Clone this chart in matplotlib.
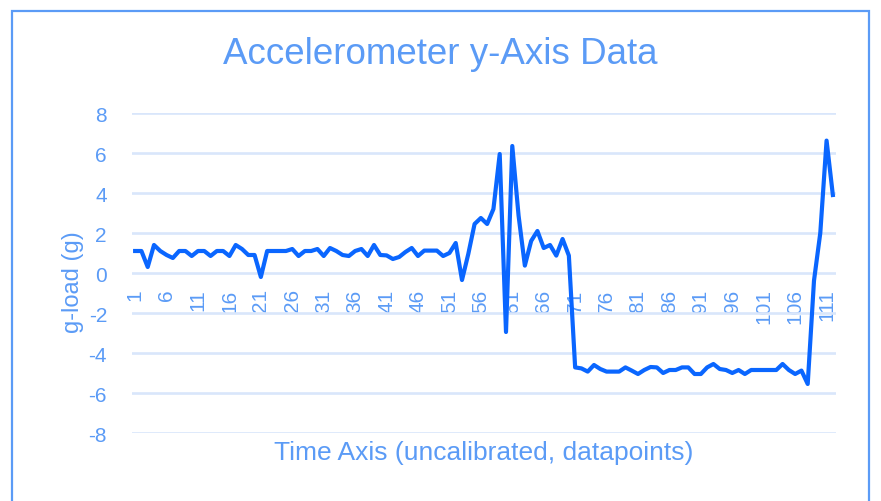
import matplotlib
matplotlib.use("Agg")
import matplotlib.pyplot as plt
from matplotlib.patches import Rectangle

# ---- data ----
categories = list(range(1, 113))
g_load = [
    1.1, 1.1, 0.3, 1.4, 1.1, 0.9, 0.75, 1.1, 1.1, 0.85,
    1.1, 1.1, 0.85, 1.1, 1.1, 0.85, 1.4, 1.2, 0.9, 0.9,
    -0.2, 1.1, 1.1, 1.1, 1.1, 1.2, 0.85, 1.1, 1.1, 1.2,
    0.85, 1.25, 1.1, 0.9, 0.85, 1.1, 1.2, 0.85, 1.4, 0.9,
    0.88, 0.7, 0.8, 1.05, 1.25, 0.85, 1.12, 1.12, 1.12, 0.85,
    1.0, 1.5, -0.35, 0.95, 2.45, 2.75, 2.45, 3.2, 5.95, -2.95,
    6.35, 2.87, 0.37, 1.6, 2.1, 1.25, 1.4, 0.87, 1.7, 0.87,
    -4.72, -4.77, -4.93, -4.6, -4.8, -4.93, -4.93, -4.93, -4.72, -4.88,
    -5.05, -4.85, -4.7, -4.72, -5.0, -4.85, -4.85, -4.72, -4.72, -5.05,
    -5.05, -4.72, -4.55, -4.8, -4.85, -5.0, -4.85, -5.05, -4.85, -4.85,
    -4.85, -4.85, -4.85, -4.55, -4.85, -5.05, -4.88, -5.55, -0.38, 2.0,
    6.62, 3.9,
]
x_tick_labels = [str(c) for c in categories if (c - 1) % 5 == 0]
y_ticks = [-8, -6, -4, -2, 0, 2, 4, 6, 8]

title = "Accelerometer y-Axis Data"
x_title = "Time Axis (uncalibrated, datapoints)"
y_title = "g-load (g)"

# ---- style ----
plt.rcParams['font.family'] = ['Liberation Sans', 'DejaVu Sans']
text_color = '#5B9BF6'
line_color = '#0A66FF'
grid_color = '#D9E6FB'

W, H = 881, 502
fig = plt.figure(figsize=(W / 100, H / 100), dpi=100)
fig.patch.set_facecolor('white')

# outer border
fig.patches.append(Rectangle((12 / W, -0.05), (869 - 12) / W, 1.05 - 12 / H,
                             transform=fig.transFigure, fill=False,
                             edgecolor='#5B9BF6', linewidth=1.6))

left, right, top, bottom = 132, 836, 114, 434
ax = fig.add_axes([left / W, 1 - bottom / H, (right - left) / W, (bottom - top) / H])
ax.set_facecolor('white')

for s in ax.spines.values():
    s.set_visible(False)
ax.spines['bottom'].set_position(('data', 0))

ax.plot(categories, g_load, color=line_color, linewidth=3.0, solid_joinstyle='round', zorder=3)

ax.set_xlim(0.5, len(categories) + 0.5)
ax.set_ylim(-8, 8)
ax.set_yticks(y_ticks)
ax.set_yticklabels([str(v) for v in y_ticks])
ax.yaxis.grid(True, color=grid_color, linewidth=1.9)
ax.xaxis.grid(False)
ax.set_axisbelow(True)

tick_pos = [c for c in categories if (c - 1) % 5 == 0]
ax.set_xticks(tick_pos)
ax.set_xticklabels(x_tick_labels)

ax.tick_params(axis='x', length=0, pad=11, labelsize=15, labelcolor=text_color,
               labelrotation=90)
for lbl in ax.get_xticklabels():
    lbl.set_va('top')
    lbl.set_ha('center')
ax.tick_params(axis='y', length=0, pad=18, labelsize=15, labelcolor=text_color)

fig.text(0.4995, 1 - 55 / H, title, ha='center', va='center', fontsize=26.5, color=text_color)
fig.text((left + right) / 2 / W, 1 - 453 / H, x_title, ha='center', va='center',
         fontsize=19, color=text_color)
fig.text(73 / W, 1 - 282 / H, y_title, ha='center', va='center', rotation=90,
         fontsize=17, color=text_color)

fig.savefig('out.png', dpi=100)
